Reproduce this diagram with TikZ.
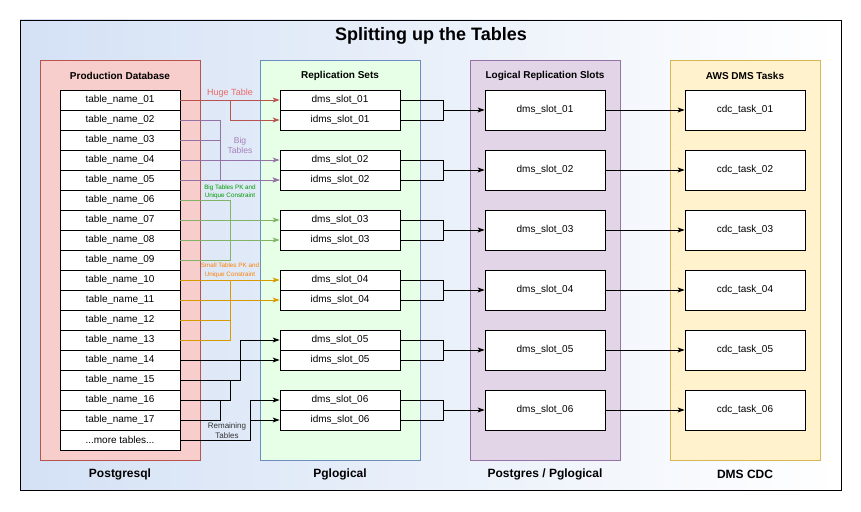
\documentclass[tikz,border=0pt]{standalone}
\usepackage{fontspec}
\setmainfont{Liberation Sans}
\usetikzlibrary{arrows.meta}
\definecolor{bgblue}{HTML}{D4E1F5}
\definecolor{pdbfill}{HTML}{F8CECC}
\definecolor{pdbline}{HTML}{B85450}
\definecolor{repfill}{HTML}{E6FFE6}
\definecolor{repline}{HTML}{6C8EBF}
\definecolor{lrsfill}{HTML}{E1D5E7}
\definecolor{lrsline}{HTML}{9673A6}
\definecolor{awsfill}{HTML}{FFF2CC}
\definecolor{awsline}{HTML}{D6B656}
\definecolor{hugecol}{HTML}{B85450}
\definecolor{hugetxt}{HTML}{EA6B66}
\definecolor{bigcol}{HTML}{9673A6}
\definecolor{bigtxt}{HTML}{A680B8}
\definecolor{pkcol}{HTML}{82B366}
\definecolor{pktxt}{HTML}{009900}
\definecolor{smcol}{HTML}{D79B00}
\definecolor{smtxt}{HTML}{FF8000}
\definecolor{remtxt}{HTML}{333333}
\begin{document}
\begin{tikzpicture}[x=1pt,y=-1pt,
  tbl/.style={draw=black, fill=white, line width=0.8pt, minimum width=120pt, minimum height=20pt, inner sep=0pt, font=\fontsize{10}{12}\selectfont},
  slotbox/.style={tbl, minimum height=40pt},
  colbox/.style={line width=0.8pt, minimum height=400pt, inner sep=0pt},
  hdr/.style={font=\bfseries\fontsize{10}{12}\selectfont},
  foot/.style={font=\bfseries\fontsize{12}{14}\selectfont},
  conn/.style={line width=0.8pt},
  arrowed/.style={conn, -{Stealth[length=7pt,width=5pt,inset=2pt]}},
  backarrowed/.style={conn, {Stealth[length=7pt,width=5pt,inset=2pt]}-},
  small/.style={align=center, inner sep=0pt}
]
\useasboundingbox (0,0) rectangle (861,511);
% frame
\node[draw=black, line width=0.9pt, left color=bgblue, right color=white, minimum width=821pt, minimum height=470pt, inner sep=0pt] (frame) at (430.5,255) {};
\node[font=\bfseries\fontsize{18}{21}\selectfont] (title) at (431,36) {Splitting up the Tables};
% columns
\node[colbox, minimum width=160pt, fill=pdbfill, draw=pdbline] (pdb) at (120,260) {};
\node[colbox, minimum width=160pt, fill=repfill, draw=repline] (rep) at (340,260) {};
\node[colbox, minimum width=150pt, fill=lrsfill, draw=lrsline] (lrs) at (545,260) {};
\node[colbox, minimum width=150pt, fill=awsfill, draw=awsline] (aws) at (745,260) {};
\node[hdr] (hpdb) at (120,76) {Production Database};
\node[hdr] (hrep) at (340,76) {Replication Sets};
\node[hdr] (hlrs) at (545,76) {Logical Replication Slots};
\node[hdr] (haws) at (745,76) {AWS DMS Tasks};
\node[foot] (fpdb) at (120,474) {Postgresql};
\node[foot] (frep) at (340,474) {Pglogical};
\node[foot] (flrs) at (545,474) {Postgres / Pglogical};
\node[foot] (faws) at (745,474) {DMS CDC};
% table rows
\foreach \i in {1,...,17} {
  \node[tbl] (t\i) at (120,{100+20*(\i-1)}) {table\_name\_\ifnum\i<10 0\fi\i};
}
\node[tbl] (t18) at (120,440) {...more tables...};
% slots
\foreach \k in {1,...,6} {
  \node[tbl] (d\k) at (340,{100+60*(\k-1)}) {dms\_slot\_0\k};
  \node[tbl] (i\k) at (340,{120+60*(\k-1)}) {idms\_slot\_0\k};
  \node[slotbox] (l\k) at (545,{110+60*(\k-1)}) {dms\_slot\_0\k};
  \node[slotbox] (c\k) at (745,{110+60*(\k-1)}) {cdc\_task\_0\k};
  \draw[conn] (d\k.east) -- ++(43,0) |- (i\k.east);
  \draw[backarrowed] (l\k.west) -- ++(-42,0);
  \draw[arrowed] (l\k.east) -- (c\k.west);
}
% huge table
\draw[arrowed, color=hugecol] (t1.east) -- (d1.west);
\draw[arrowed, color=hugecol] ([xshift=50pt]t1.east) |- (i1.west);
\node[small, text=hugetxt, font=\fontsize{9}{10}\selectfont] (lhuge) at (230,93) {Huge Table};
% big tables
\draw[arrowed, color=bigcol] (t4.east) -- (d2.west);
\draw[arrowed, color=bigcol] (t5.east) -- (i2.west);
\draw[arrowed, color=bigcol] (t2.east) -- ++(40,0) |- (i2.west);
\draw[conn, color=bigcol] (t3.east) -- ++(40,0);
\node[small, text=bigtxt, font=\fontsize{8.5}{9.5}\selectfont] (lbig) at (240,145.5) {Big\\Tables};
% big tables pk
\draw[arrowed, color=pkcol] (t7.east) -- (d3.west);
\draw[arrowed, color=pkcol] (t8.east) -- (i3.west);
\draw[conn, color=pkcol] (t6.east) -- ++(50,0) |- (t9.east);
\node[small, text=pktxt, font=\fontsize{6.3}{8.5}\selectfont] (lpk) at (230,192) {Big Tables PK and\\Unique Constraint};
% small tables pk
\draw[arrowed, color=smcol] (t10.east) -- (d4.west);
\draw[arrowed, color=smcol] (t11.east) -- (i4.west);
\draw[conn, color=smcol] ([xshift=50pt]t10.east) |- (t13.east);
\draw[conn, color=smcol] (t12.east) -- ++(50,0);
\node[small, text=smtxt, font=\fontsize{6.3}{8.7}\selectfont] (lsm) at (230,270.5) {Small Tables PK and\\Unique Constraint};
% remaining tables
\draw[arrowed] (t15.east) -- ++(60,0) |- (d5.west);
\draw[arrowed] (t14.east) -- (i5.west);
\draw[conn] (t16.east) -| ([xshift=50pt]t15.east);
\draw[conn] (t17.east) -| ([xshift=40pt]t16.east);
\draw[arrowed] (t18.east) -- ++(70,0) |- (d6.west);
\draw[arrowed] ([xshift=70pt]t18.east) |- (i6.west);
\node[small, text=remtxt, font=\fontsize{8}{9.5}\selectfont] (lrem) at (227,430.5) {Remaining\\Tables};
\end{tikzpicture}
\end{document}
